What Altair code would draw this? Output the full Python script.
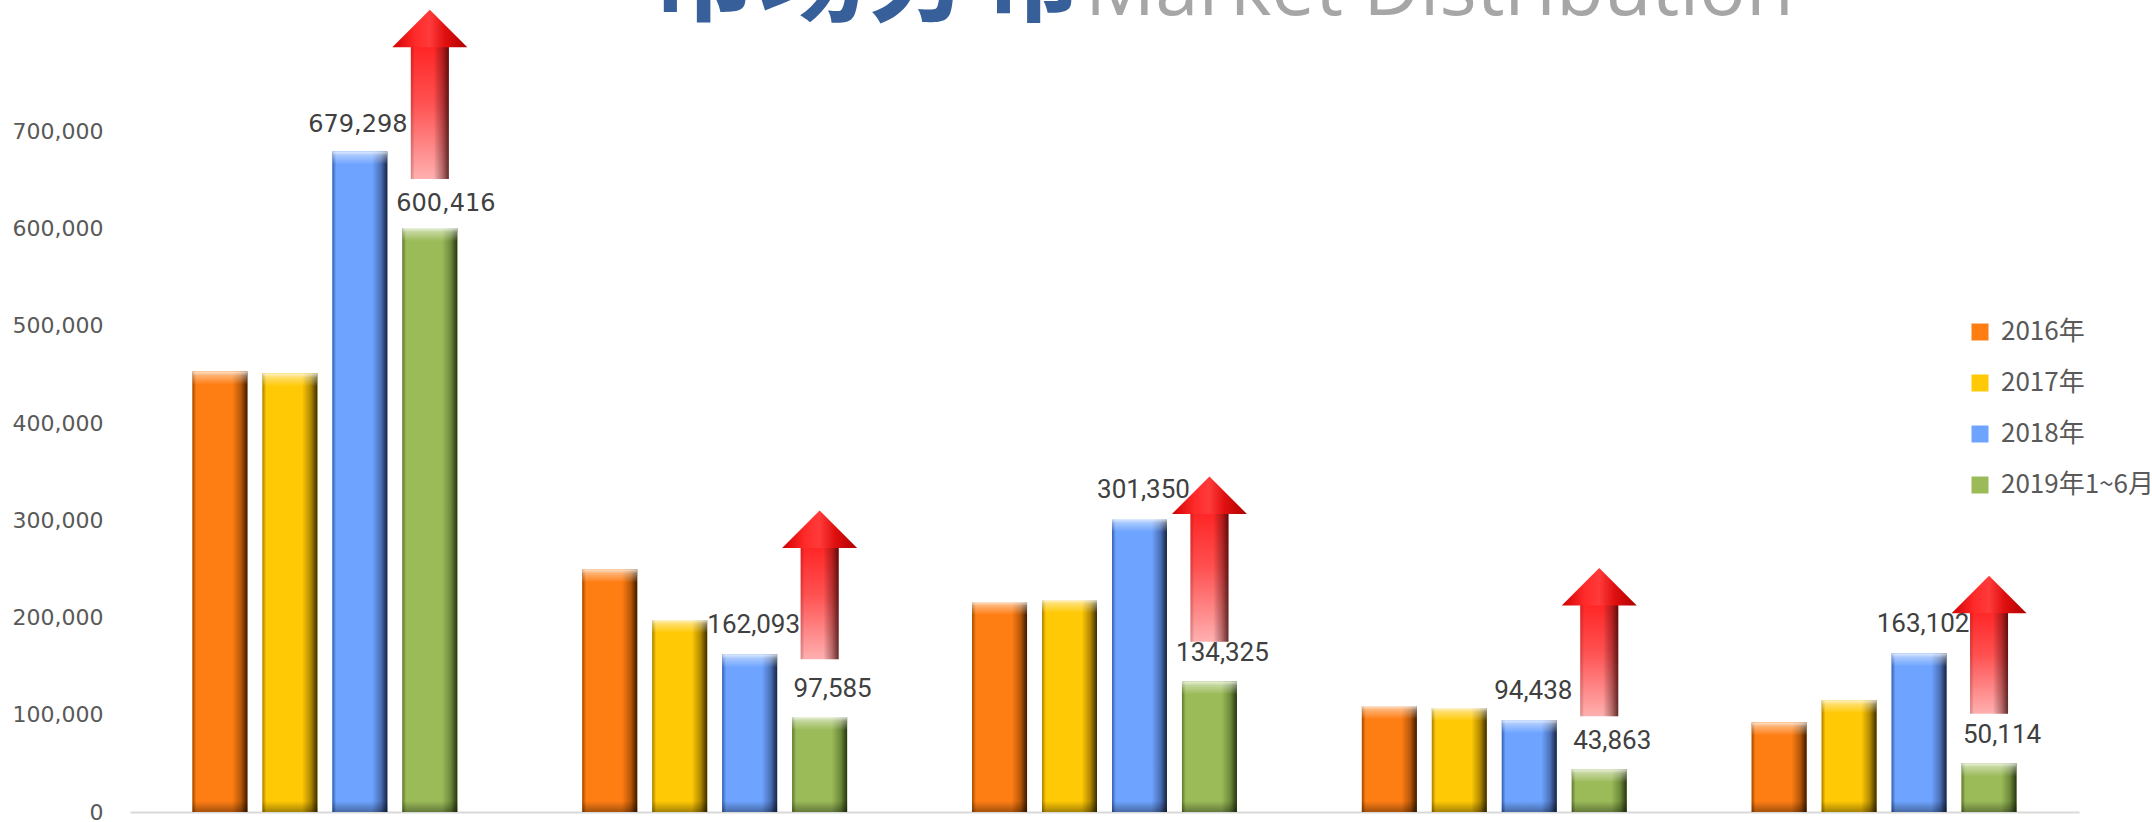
import altair as alt
import pandas as pd

# ---- data ----
groups = ["市场1", "市场2", "市场3", "市场4", "市场5"]
series = ["2016年", "2017年", "2018年", "2019年1~6月"]
v2016 = [453000, 249500, 216000, 109000, 92000]
v2017 = [451000, 197500, 218000, 107000, 115000]
v2018 = [679298, 162093, 301350, 94438, 163102]
v2019 = [600416, 97585, 134325, 43863, 50114]
arrow_low = [651000, 157000, 175000, 98500, 101000]
arrow_tip = [825000, 310000, 345000, 251000, 243000]
y_ticks = [0, 100000, 200000, 300000, 400000, 500000, 600000, 700000]
title_cn = "市场分布"
title_en = "Market Distribution"

colors = ["#FF7E14", "#FFC905", "#6EA4FF", "#9BBB59"]
edge_stops = [
    ["#A04A00", "#FF7E14", "#FF7E14", "#B85808", "#3C1A00"],
    ["#A88000", "#FFC905", "#FFC905", "#B08800", "#3A2C00"],
    ["#3560B0", "#6EA4FF", "#6EA4FF", "#4A70B8", "#17243F"],
    ["#5E7A30", "#9BBB59", "#9BBB59", "#6C8A3A", "#26340F"],
]

rows = []
for i, g in enumerate(groups):
    for s, vals in zip(series, [v2016, v2017, v2018, v2019]):
        rows.append({"group": g, "series": s, "value": vals[i], "base": 0})
df = pd.DataFrame(rows)
arrows = pd.DataFrame({"group": groups, "series": series[3],
                       "low": arrow_low, "tip": arrow_tip})

y_scale = alt.Scale(domain=[0, 835000], nice=False, zero=True)
y_axis = alt.Axis(values=y_ticks, format=",.0f", title=None, grid=False, ticks=False,
                  domain=False, labelFont="DejaVu Sans", labelFontSize=22,
                  labelColor="#595959", labelPadding=27)
x_enc = alt.X("group:N", sort=groups, title=None,
              scale=alt.Scale(domain=groups, paddingInner=0, paddingOuter=0),
              axis=alt.Axis(labels=False, ticks=False, grid=False, title=None,
                            domainColor="#D9D9D9", domainWidth=2))
xo_enc = alt.XOffset("series:N", sort=series,
                     scale=alt.Scale(domain=series, paddingInner=0.2143, paddingOuter=0.893))


def hgrad(cols, offs=(0, 0.07, 0.72, 0.88, 1)):
    return alt.Gradient(gradient="linear", x1=0, x2=1, y1=0, y2=0,
                        stops=[alt.GradientStop(offset=o, color=c) for o, c in zip(offs, cols)])


def vgrad(cols, offs):
    return alt.Gradient(gradient="linear", x1=0, x2=0, y1=0, y2=1,
                        stops=[alt.GradientStop(offset=o, color=c) for o, c in zip(offs, cols)])


base = alt.Chart(df)

plain = base.mark_bar().encode(
    x=x_enc, xOffset=xo_enc,
    y=alt.Y("value:Q", scale=y_scale, axis=y_axis),
    color=alt.Color("series:N", sort=series,
                    scale=alt.Scale(domain=series, range=colors),
                    legend=alt.Legend(title=None, orient="none", legendX=1837, legendY=319,
                                      symbolType="square", symbolSize=289, symbolStrokeWidth=0,
                                      labelFont="Noto Sans CJK SC", labelFontSize=26,
                                      labelColor="#595959", labelOffset=8, rowPadding=25,
                                      padding=0)),
)

layers = [plain]
for s, st in zip(series, edge_stops):
    layers.append(
        base.transform_filter(alt.datum.series == s).mark_bar(fill=hgrad(st)).encode(
            x=x_enc, xOffset=xo_enc, y=alt.Y("value:Q", scale=y_scale, axis=y_axis))
    )

top_strip = base.mark_bar(
    y2Offset=13,
    fill=vgrad(["rgba(255,255,255,0.8)", "rgba(255,255,255,0.4)", "rgba(255,255,255,0)"],
               [0, 0.3, 1])
).encode(x=x_enc, xOffset=xo_enc,
         y=alt.Y("value:Q", scale=y_scale, axis=y_axis), y2="value:Q")

bottom_strip = base.mark_bar(
    y2Offset=-11,
    fill=vgrad(["rgba(0,0,0,0)", "rgba(0,0,0,0.35)"], [0, 1])
).encode(x=x_enc, xOffset=xo_enc,
         y=alt.Y("base:Q", scale=y_scale, axis=y_axis), y2="base:Q")

layers += [top_strip, bottom_strip]

arr = alt.Chart(arrows)
shaft = arr.mark_bar(
    width=38, y2Offset=30,
    fill=vgrad(["#FF2020", "#FF5050", "#FFB0B0"], [0, 0.45, 1])
).encode(x=x_enc, xOffset=xo_enc,
         y=alt.Y("low:Q", scale=y_scale, axis=y_axis), y2="tip:Q")
shaft_shade = arr.mark_bar(
    width=38, y2Offset=30,
    fill=hgrad(["rgba(120,0,0,0.25)", "rgba(0,0,0,0)", "rgba(0,0,0,0)",
                "rgba(60,0,0,0.35)", "rgba(40,0,0,0.75)"], (0, 0.1, 0.6, 0.82, 1))
).encode(x=x_enc, xOffset=xo_enc,
         y=alt.Y("low:Q", scale=y_scale, axis=y_axis), y2="tip:Q")
head = arr.mark_point(
    shape="M0,0L1,1L-1,1Z", size=5625, filled=True, opacity=1, strokeWidth=0,
    fill=hgrad(["#D00000", "#FF2A2A", "#FF3A3A", "#E01010", "#B00000"], (0, 0.3, 0.5, 0.7, 1))
).encode(x=x_enc, xOffset=xo_enc,
         y=alt.Y("tip:Q", scale=y_scale, axis=y_axis))
layers += [shaft, shaft_shade, head]


def labels(group_filter, s, font, size, dx, dy):
    return base.transform_filter(group_filter).transform_filter(alt.datum.series == s).mark_text(
        font=font, fontSize=size, color="#404040", baseline="middle", dx=dx, dy=dy
    ).encode(x=x_enc, xOffset=xo_enc,
             y=alt.Y("value:Q", scale=y_scale, axis=y_axis),
             text=alt.Text("value:Q", format=","))


first = alt.datum.group == groups[0]
rest = alt.datum.group != groups[0]
layers += [
    labels(first, series[2], "DejaVu Sans", 24, -2, -26),
    labels(first, series[3], "DejaVu Sans", 24, 16, -24),
    labels(rest, series[2], "Roboto", 26, 4, -29),
    labels(rest, series[3], "Roboto", 26, 13, -28),
]

t_cn = alt.Chart(pd.DataFrame({"t": [title_cn]})).mark_text(
    font="Noto Sans CJK SC", fontWeight="bold", fontSize=108, color="#37609A",
    align="left", baseline="alphabetic"
).encode(x=alt.value(520), y=alt.value(13), text="t:N")
t_en = alt.Chart(pd.DataFrame({"t": [title_en]})).mark_text(
    font="Open Sans", fontSize=78, color="#A6A6A6", align="left", baseline="alphabetic"
).encode(x=alt.value(955), y=alt.value(15), text="t:N")
layers += [t_cn, t_en]

chart = alt.layer(*layers).properties(
    width=1949, height=812,
    autosize=alt.AutoSizeParams(type="none"),
    padding={"left": 130, "top": 0, "right": 73, "bottom": 10},
    background="white",
).configure_view(stroke=None)

chart.save("out.html", embed_options={"renderer": "svg", "actions": False})
